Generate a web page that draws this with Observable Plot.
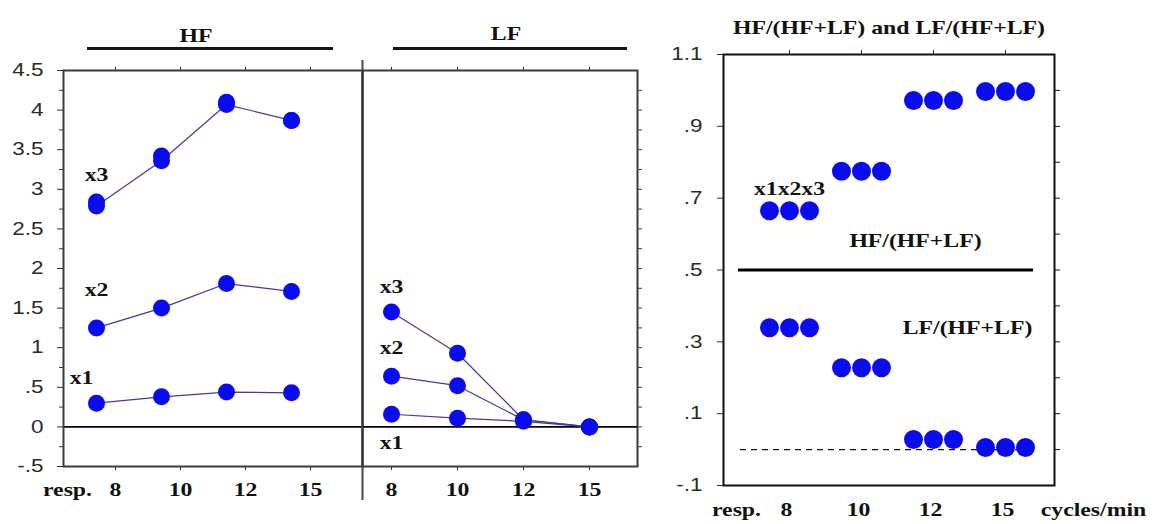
<!DOCTYPE html>
<html>
<head>
<meta charset="utf-8">
<script src="https://cdn.jsdelivr.net/npm/d3@7"></script>
<script src="https://cdn.jsdelivr.net/npm/@observablehq/plot@0.6"></script>
<style>
  html,body{margin:0;padding:0;background:#fff;}
  #wrap{position:relative;width:1166px;height:524px;overflow:hidden;background:#fff;}
  #wrap svg{position:absolute;top:0;overflow:visible;}
  .hdr{position:absolute;z-index:2;width:120px;text-align:center;font-family:"Liberation Serif","Times New Roman",serif;font-weight:bold;font-size:19px;line-height:22px;color:#111;transform:scaleX(1.25);}
  .bar{position:absolute;z-index:2;height:3px;background:#151515;}
</style>
</head>
<body>
<div id="wrap">
  <div class="hdr" style="left:136px;top:25px;">HF</div>
  <div class="bar" style="left:87px;top:47px;width:246px;"></div>
  <div class="hdr" style="left:446px;top:23px;">LF</div>
  <div class="bar" style="left:393px;top:47px;width:234px;"></div>
</div>
<script>
// ---------- data ----------
const categories = ["8", "10", "12", "15"];
const tickLabels = ["8", "10", "12", "15"];
const seriesNames = ["x1", "x2", "x3"];

const hfX1 = [0.30, 0.38, 0.44, 0.43];
const hfX2 = [1.25, 1.50, 1.81, 1.71];
const hfX3 = [2.79, 3.36, 4.07, 3.87];
const hfX3b = [2.84, 3.42, 4.10, 3.87];   // second, overlapping x3 reading (dots only)

const lfX1 = [0.16, 0.11, 0.07, 0.00];
const lfX2 = [0.64, 0.52, 0.09, 0.00];
const lfX3 = [1.45, 0.93, 0.09, 0.00];

const hfLabelY = [0.62, 1.73, 3.18];
const lfLabelY = [-0.20, 1.00, 1.77];

const hfRatio = [0.665, 0.775, 0.972, 0.997];
const lfRatio = [0.339, 0.228, 0.028, 0.006];
const ratioLabels = ["x1x2x3", "HF/(HF+LF)", "LF/(HF+LF)"];
const ratioLabelY = [0.725, 0.58, 0.34];

const leftTicks = [-0.5, 0, 0.5, 1, 1.5, 2, 2.5, 3, 3.5, 4, 4.5];
const leftTickLabels = ["-.5", "0", ".5", "1", "1.5", "2", "2.5", "3", "3.5", "4", "4.5"];
const leftMinor = [-0.25, 0.25, 0.75, 1.25, 1.75, 2.25, 2.75, 3.25, 3.75, 4.25];
const lfRightTicks = [-0.25, 0, 0.25, 0.5, 0.75, 1, 1.25, 1.5, 1.75, 2, 2.25, 2.5, 2.75, 3, 3.25, 3.5, 3.75, 4, 4.25];

const rightTicks = [-0.1, 0.1, 0.3, 0.5, 0.7, 0.9, 1.1];
const rightTickLabels = ["-.1", ".1", ".3", ".5", ".7", ".9", "1.1"];
const rightMinor = [0, 0.1, 0.2, 0.3, 0.4, 0.5, 0.6, 0.7, 0.8, 0.9, 1.0];

// ---------- styles ----------
const blue = "#0b0bf0";
const lineColor = "#3b3ba6";
const serif = {fontFamily: "Liberation Serif, Times New Roman, serif", fontWeight: "bold", fontSize: 19, fill: "#111"};
const baseStyle = {fontFamily: "Liberation Sans, Arial, sans-serif", fontSize: "18px", color: "#2a2a2a", background: "transparent", overflow: "visible"};
const groupOffsets = [-20, 0, 20];

// ---------- tables ----------
const toRows = (vals, s) => categories.map((c, i) => ({cat: c, v: vals[i], s}));
const hfRows = [...toRows(hfX1, "x1"), ...toRows(hfX2, "x2"), ...toRows(hfX3, "x3")];
const hfExtra = toRows(hfX3b, "x3b");
const lfRows = [...toRows(lfX1, "x1"), ...toRows(lfX2, "x2"), ...toRows(lfX3, "x3")];
const hfLabels = seriesNames.map((s, i) => ({s, y: hfLabelY[i]}));
const lfLabels = seriesNames.map((s, i) => ({s, y: lfLabelY[i]}));
const ratioRows = categories.map((c, i) => ({cat: c, hf: hfRatio[i], lf: lfRatio[i]}));
const tickRows = categories.map((c, i) => ({cat: c, t: tickLabels[i]}));

const yLeft = {
  domain: [-0.5, 4.5], ticks: leftTicks,
  tickFormat: d => leftTickLabels[leftTicks.indexOf(d)],
  tickSize: 6, tickPadding: 14, label: null
};

// ---------- HF panel ----------
const hfPlot = Plot.plot({
  width: 362, height: 524, marginLeft: 63, marginRight: 0, marginTop: 70, marginBottom: 58,
  style: baseStyle,
  x: {type: "point", domain: categories, padding: 0, insetLeft: 51, insetRight: 52, axis: "both", tickSize: 4, tickFormat: () => "", label: null},
  y: yLeft,
  marks: [
    Plot.ruleY([0], {stroke: "#000", strokeWidth: 1.6}),
    Plot.frame({stroke: "#3a3a3a", strokeWidth: 2}),
    Plot.tickY(leftMinor, {y: d => d, insetLeft: -4, insetRight: 299, stroke: "#3a3a3a"}),
    Plot.tickX([categories[categories.length - 1]], {x: d => d, dx: 52, insetTop: -10, insetBottom: -34, stroke: "#555", strokeWidth: 2.2}),
    Plot.line(hfRows, {x: "cat", y: "v", z: "s", dx: -19, stroke: lineColor, strokeWidth: 1.2}),
    Plot.dot(hfExtra, {x: "cat", y: "v", dx: -19, r: 8.5, fill: blue}),
    Plot.dot(hfRows, {x: "cat", y: "v", dx: -19, r: 8.5, fill: blue}),
    Plot.text(tickRows, {x: "cat", text: "t", frameAnchor: "bottom", dy: 29, ...serif}),
    Plot.text(["resp."], {frameAnchor: "bottom-left", textAnchor: "middle", dx: 4, dy: 29, ...serif}),
    Plot.text(hfLabels.filter(d => d.s !== "x1"), {x: () => categories[0], y: "y", text: "s", dx: -19, ...serif}),
    Plot.text(hfLabels.filter(d => d.s === "x1"), {x: () => categories[0], y: "y", text: "s", dx: -34, ...serif})
  ]
});

// ---------- LF panel ----------
const lfPlot = Plot.plot({
  width: 285, height: 524, marginLeft: 0, marginRight: 10, marginTop: 70, marginBottom: 58,
  style: baseStyle,
  x: {type: "point", domain: categories, padding: 0, insetLeft: 28, insetRight: 48, axis: "both", tickSize: 4, tickFormat: () => "", label: null},
  y: {...yLeft, axis: null},
  marks: [
    Plot.ruleY([0], {stroke: "#000", strokeWidth: 1.6}),
    Plot.frame({stroke: "#3a3a3a", strokeWidth: 2}),
    Plot.tickY(lfRightTicks, {y: d => d, insetLeft: 275, insetRight: -5, stroke: "#3a3a3a"}),
    Plot.line(lfRows, {x: "cat", y: "v", z: "s", stroke: lineColor, strokeWidth: 1.2}),
    Plot.dot(lfRows, {x: "cat", y: "v", r: 8.5, fill: blue}),
    Plot.text(tickRows, {x: "cat", text: "t", frameAnchor: "bottom", dy: 29, ...serif}),
    Plot.text(lfLabels, {x: () => categories[0], y: "y", text: "s", ...serif})
  ]
});

// ---------- ratio panel ----------
const rPlot = Plot.plot({
  width: 506, height: 524, marginLeft: 63, marginRight: 112, marginTop: 54, marginBottom: 39,
  style: baseStyle,
  x: {type: "point", domain: categories, padding: 0, insetLeft: 65, insetRight: 49, axis: "top", tickSize: 5, tickFormat: () => "", label: null},
  y: {domain: [-0.1, 1.1], ticks: rightTicks, tickFormat: d => rightTickLabels[rightTicks.indexOf(d)], tickSize: 6, tickPadding: 15, label: null},
  marks: [
    Plot.frame({stroke: "#111", strokeWidth: 2}),
    Plot.tickY(rightMinor, {y: d => d, insetLeft: 331, insetRight: -6, stroke: "#111"}),
    Plot.ruleY([0.5], {stroke: "#000", strokeWidth: 3, insetLeft: 15, insetRight: 21}),
    Plot.ruleY([0], {stroke: "#111", strokeWidth: 1.4, strokeDasharray: "6,5", insetLeft: 17, insetRight: 21}),
    ...groupOffsets.map(o => Plot.dot(ratioRows, {x: "cat", y: "hf", dx: o, r: 9.5, fill: blue})),
    ...groupOffsets.map(o => Plot.dot(ratioRows, {x: "cat", y: "lf", dx: o, r: 9.5, fill: blue})),
    Plot.text([ratioLabels[0]], {x: () => categories[0], y: () => ratioLabelY[0], ...serif}),
    Plot.text([ratioLabels[1]], {x: () => categories[2], y: () => ratioLabelY[1], dx: -18, ...serif}),
    Plot.text([ratioLabels[2]], {x: () => categories[3], y: () => ratioLabelY[2], dx: -38, ...serif}),
    Plot.text(["HF/(HF+LF) and LF/(HF+LF)"], {frameAnchor: "top", dy: -34, ...serif}),
    Plot.text(tickRows, {x: "cat", text: "t", frameAnchor: "bottom", dy: 30, dx: -3, ...serif}),
    Plot.text(["resp."], {frameAnchor: "bottom-left", textAnchor: "middle", dx: 13, dy: 30, ...serif}),
    Plot.text(["cycles/min"], {frameAnchor: "bottom-right", textAnchor: "middle", dx: 39, dy: 30, ...serif})
  ]
});

// horizontal stretch of the lettering, as in the scanned original
function stretch(svg, k) {
  svg.querySelectorAll("text").forEach(t => {
    const xa = t.getAttribute("x");
    if (xa != null && xa !== "") t.setAttribute("x", (+xa) / k);
    const tr = t.getAttribute("transform");
    t.setAttribute("transform", (tr ? tr + " " : "") + `scale(${k},1)`);
  });
}

const wrap = document.getElementById("wrap");
[[hfPlot, 0], [lfPlot, 362], [rPlot, 660]].forEach(([p, left]) => {
  stretch(p, 1.25);
  p.style.position = "absolute";
  p.style.left = left + "px";
  p.style.top = "0px";
  wrap.appendChild(p);
});
</script>
</body>
</html>
